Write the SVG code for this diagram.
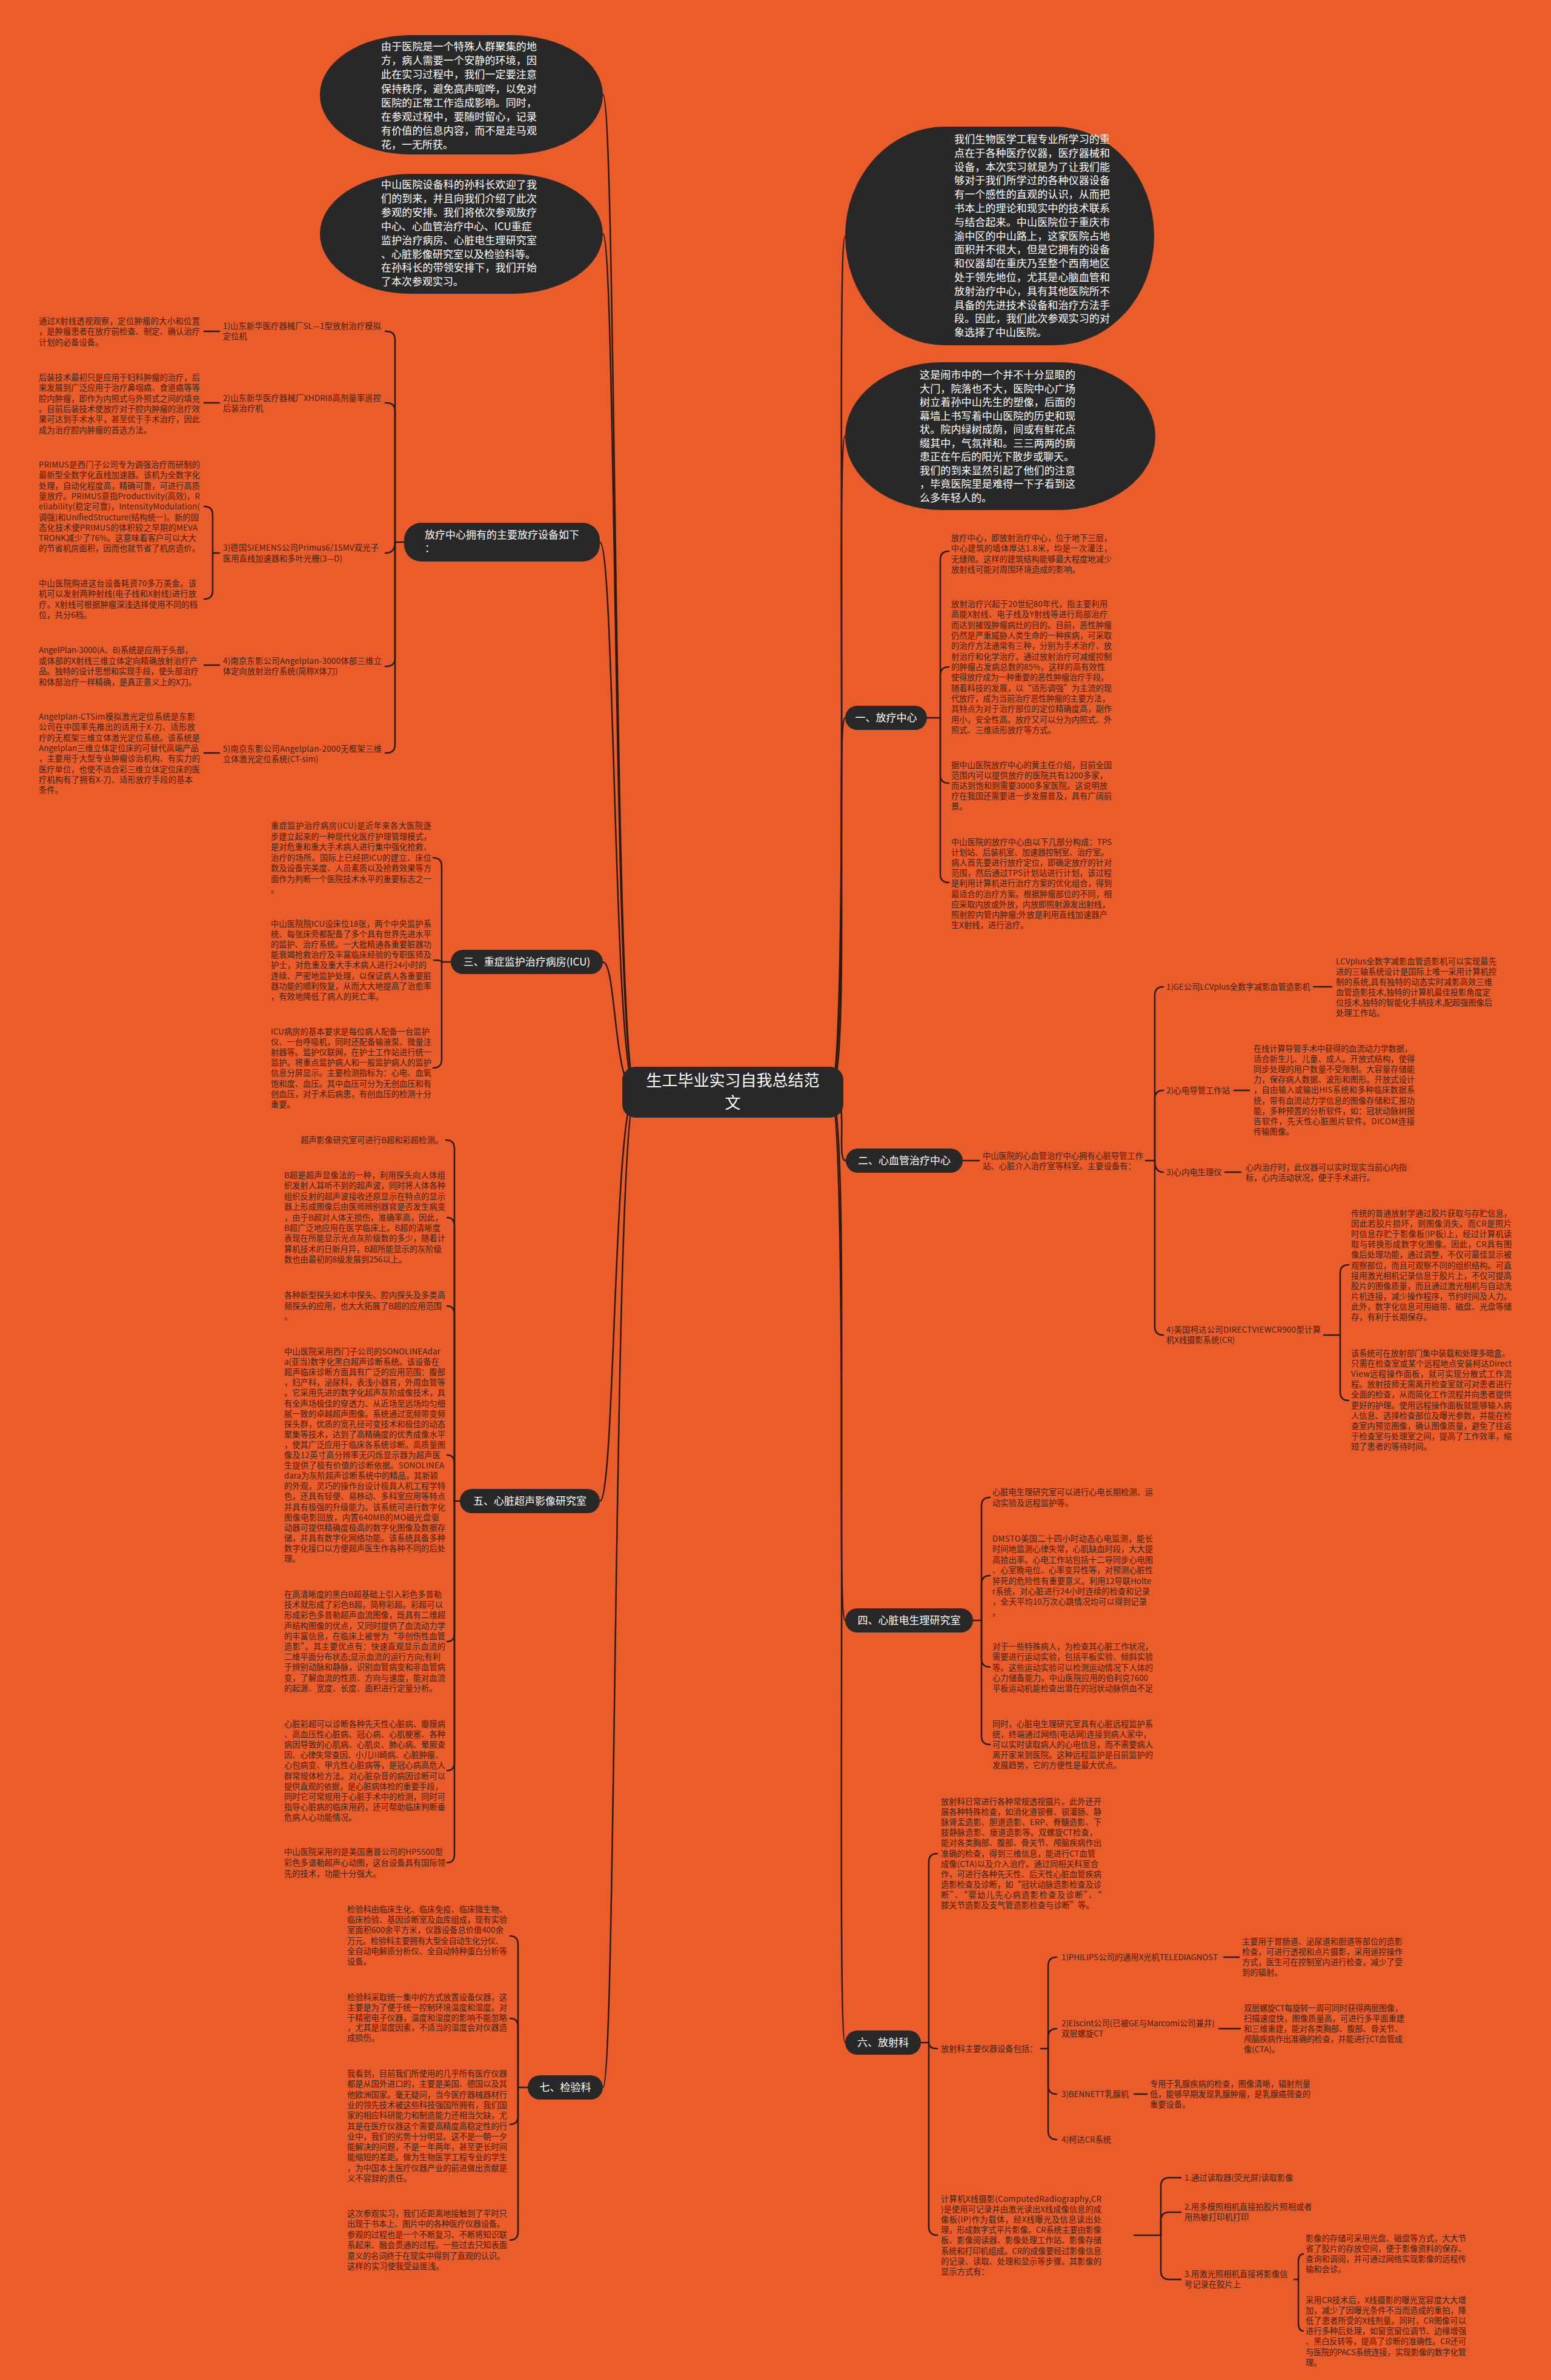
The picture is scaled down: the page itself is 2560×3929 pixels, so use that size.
<svg xmlns="http://www.w3.org/2000/svg" width="2560" height="3929" viewBox="0 0 2560 3929">
<style>
text{font-family:"Noto Sans CJK SC","Microsoft YaHei",sans-serif}
.t{font-size:13.3px;fill:#3f1f0f}
.b{font-size:17px;fill:#ffffff}
.w{font-size:17px;fill:#ffffff;text-anchor:middle}
.nd{fill:#282828}
.ln{fill:none;stroke:#2b1a10;stroke-width:2.5;stroke-linecap:round}
</style>
<rect x="0" y="0" width="2560" height="3929" fill="#EA5D2A"/>
<g id="connectors" class="ln">
<path d="M1050,1801 C1012,1801 1018,156 995,156"/>
<path d="M1050,1801 C1012,1801 1018,386 995,386"/>
<path d="M1050,1801 C1012,1801 1016,895 990,895"/>
<path d="M1050,1801 C1012,1801 1018,1588 995,1588"/>
<path d="M1050,1801 C1012,1801 1016,2478 990,2478"/>
<path d="M1050,1801 C1012,1801 1018,3446 995,3446"/>
<path d="M1370,1801 C1405,1801 1378,390 1395,390"/>
<path d="M1370,1801 C1405,1801 1378,720 1395,720"/>
<path d="M1370,1801 C1405,1801 1378,1185 1395,1185"/>
<path d="M1370,1801 C1405,1801 1378,1916 1396,1916"/>
<path d="M1370,1801 C1405,1801 1378,2675 1395,2675"/>
<path d="M1370,1801 C1405,1801 1378,3372 1395,3372"/>
<path d="M667,895 L652,895"/>
<path d="M652,895 L652,561 Q652,547 638,547 L636,547"/>
<path d="M652,895 L652,679 Q652,665 638,665 L636,665"/>
<path d="M652,895 Q652,913 636,913"/>
<path d="M652,895 L652,1086 Q652,1100 638,1100 L636,1100"/>
<path d="M652,895 L652,1229 Q652,1243 638,1243 L636,1243"/>
<path d="M362,547 L337,547"/>
<path d="M362,665 L337,665"/>
<path d="M362,913 L351,913"/>
<path d="M351,913 L351,850 Q351,836 337,836"/>
<path d="M351,913 L351,975 Q351,989 337,989"/>
<path d="M362,1098 L337,1098"/>
<path d="M362,1243 L337,1243"/>
<path d="M1530,1185 L1552,1185"/>
<path d="M1552,1185 L1552,924 Q1552,910 1566,910"/>
<path d="M1552,1185 L1552,1115 Q1552,1101 1566,1101"/>
<path d="M1552,1185 L1552,1279 Q1552,1293 1566,1293"/>
<path d="M1552,1185 L1552,1443 Q1552,1457 1566,1457"/>
<path d="M1589,1916 L1616,1916"/>
<path d="M1891,1916 L1906,1916"/>
<path d="M1906,1916 L1906,1643 Q1906,1629 1920,1629"/>
<path d="M1906,1916 L1906,1814 Q1906,1800 1920,1800"/>
<path d="M1906,1916 Q1906,1935 1920,1935"/>
<path d="M1906,1916 L1906,2190 Q1906,2204 1920,2204"/>
<path d="M2168,1629 L2198,1629"/>
<path d="M2037,1800 L2062,1800"/>
<path d="M2022,1935 L2048,1935"/>
<path d="M2185,2204 L2212,2204"/>
<path d="M2212,2204 L2212,2102 Q2212,2088 2226,2088"/>
<path d="M2212,2204 L2212,2298 Q2212,2312 2226,2312"/>
<path d="M744,1588 L729,1588"/>
<path d="M729,1588 L729,1430 Q729,1416 715,1416"/>
<path d="M729,1588 Q729,1585 716,1585"/>
<path d="M729,1588 L729,1749 Q729,1763 715,1763"/>
<path d="M1606,2675 L1620,2675"/>
<path d="M1620,2675 L1620,2486 Q1620,2472 1634,2472"/>
<path d="M1620,2675 L1620,2615 Q1620,2601 1634,2601"/>
<path d="M1620,2675 L1620,2738 Q1620,2752 1634,2752"/>
<path d="M1620,2675 L1620,2866 Q1620,2880 1634,2880"/>
<path d="M759,2478 L750,2478"/>
<path d="M750,2478 L750,1896 Q750,1882 736,1882"/>
<path d="M750,2478 L750,2024 Q750,2010 738,2010"/>
<path d="M750,2478 L750,2170 Q750,2156 738,2156"/>
<path d="M750,2478 L750,2416 Q750,2402 738,2402"/>
<path d="M750,2478 L750,2696 Q750,2710 738,2710"/>
<path d="M750,2478 L750,2909 Q750,2923 738,2923"/>
<path d="M750,2478 L750,3061 Q750,3075 738,3075"/>
<path d="M871,3446 L855,3446"/>
<path d="M855,3446 L855,3210 Q855,3196 842,3196"/>
<path d="M855,3446 L855,3346 Q855,3332 842,3332"/>
<path d="M855,3446 L855,3493 Q855,3507 842,3507"/>
<path d="M855,3446 L855,3684 Q855,3698 842,3698"/>
<path d="M1520,3372 L1533,3372"/>
<path d="M1533,3372 L1533,3074 Q1533,3060 1547,3060"/>
<path d="M1533,3372 Q1533,3382 1547,3382"/>
<path d="M1533,3372 L1533,3676 Q1533,3690 1547,3690"/>
<path d="M1718,3382 L1730,3382"/>
<path d="M1730,3382 L1730,3245 Q1730,3231 1744,3231"/>
<path d="M1730,3382 L1730,3363 Q1730,3349 1744,3349"/>
<path d="M1730,3382 L1730,3443 Q1730,3457 1744,3457"/>
<path d="M1730,3382 L1730,3518 Q1730,3532 1744,3532"/>
<path d="M2020,3231 L2045,3231"/>
<path d="M2012,3349 L2047,3349"/>
<path d="M1872,3457 L1893,3457"/>
<path d="M1872,3690 L1916,3690"/>
<path d="M1916,3690 L1916,3609 Q1916,3595 1930,3595 L1949,3595"/>
<path d="M1916,3690 L1916,3666 Q1916,3652 1930,3652 L1949,3652"/>
<path d="M1916,3690 L1916,3749 Q1916,3763 1930,3763 L1949,3763"/>
<path d="M2136,3763 L2143,3763"/>
<path d="M2143,3763 L2143,3735 Q2143,3721 2151,3721"/>
<path d="M2143,3763 L2143,3834 Q2143,3848 2151,3848"/>
</g>
<g id="center">
<rect class="nd" x="1027" y="1761" width="365" height="84" rx="22"/>
<text class="w" x="1209.5" y="1793" style="font-size:26px">生工毕业实习自我总结范</text>
<text class="w" x="1209.5" y="1830" style="font-size:26px">文</text>
</g>
<g id="bubble-l1">
<rect class="nd" x="528" y="58" width="467" height="197" rx="150" ry="98"/>
<text class="b" x="629" y="83" textLength="257">由于医院是一个特殊人群聚集的地</text>
<text class="b" x="629" y="106.2" textLength="257">方，病人需要一个安静的环境，因</text>
<text class="b" x="629" y="129.4" textLength="257">此在实习过程中，我们一定要注意</text>
<text class="b" x="629" y="152.6" textLength="257">保持秩序，避免高声喧哗，以免对</text>
<text class="b" x="629" y="175.8" textLength="257">医院的正常工作造成影响。同时，</text>
<text class="b" x="629" y="199" textLength="257">在参观过程中，要随时留心，记录</text>
<text class="b" x="629" y="222.2" textLength="257">有价值的信息内容，而不是走马观</text>
<text class="b" x="629" y="245.4">花，一无所获。</text>
</g>
<g id="bubble-l2">
<rect class="nd" x="528" y="287" width="467" height="198" rx="150" ry="99"/>
<text class="b" x="629" y="311" textLength="257">中山医院设备科的孙科长欢迎了我</text>
<text class="b" x="629" y="333.9" textLength="257">们的到来，并且向我们介绍了此次</text>
<text class="b" x="629" y="356.8" textLength="257">参观的安排。我们将依次参观放疗</text>
<text class="b" x="629" y="379.7">中心、心血管治疗中心、ICU重症</text>
<text class="b" x="629" y="402.6" textLength="257">监护治疗病房、心脏电生理研究室</text>
<text class="b" x="629" y="425.5">、心脏影像研究室以及检验科等。</text>
<text class="b" x="629" y="448.4" textLength="257">在孙科长的带领安排下，我们开始</text>
<text class="b" x="629" y="471.3">了本次参观实习。</text>
</g>
<g id="bubble-r1">
<rect class="nd" x="1395" y="209" width="510" height="361" rx="165" ry="180"/>
<text class="b" x="1575" y="236" textLength="257">我们生物医学工程专业所学习的重</text>
<text class="b" x="1575" y="258.8" textLength="257">点在于各种医疗仪器，医疗器械和</text>
<text class="b" x="1575" y="281.6" textLength="257">设备，本次实习就是为了让我们能</text>
<text class="b" x="1575" y="304.4" textLength="257">够对于我们所学过的各种仪器设备</text>
<text class="b" x="1575" y="327.2" textLength="257">有一个感性的直观的认识，从而把</text>
<text class="b" x="1575" y="350" textLength="257">书本上的理论和现实中的技术联系</text>
<text class="b" x="1575" y="372.8" textLength="257">与结合起来。中山医院位于重庆市</text>
<text class="b" x="1575" y="395.6" textLength="257">渝中区的中山路上，这家医院占地</text>
<text class="b" x="1575" y="418.4" textLength="257">面积并不很大，但是它拥有的设备</text>
<text class="b" x="1575" y="441.2" textLength="257">和仪器却在重庆乃至整个西南地区</text>
<text class="b" x="1575" y="464" textLength="257">处于领先地位，尤其是心脑血管和</text>
<text class="b" x="1575" y="486.8" textLength="257">放射治疗中心，具有其他医院所不</text>
<text class="b" x="1575" y="509.6" textLength="257">具备的先进技术设备和治疗方法手</text>
<text class="b" x="1575" y="532.4" textLength="257">段。因此，我们此次参观实习的对</text>
<text class="b" x="1575" y="555.2">象选择了中山医院。</text>
</g>
<g id="bubble-r2">
<rect class="nd" x="1395" y="598" width="512" height="244" rx="160" ry="122"/>
<text class="b" x="1518" y="625" textLength="257">这是闹市中的一个并不十分显眼的</text>
<text class="b" x="1518" y="647.5" textLength="257">大门，院落也不大，医院中心广场</text>
<text class="b" x="1518" y="670" textLength="257">树立着孙中山先生的塑像，后面的</text>
<text class="b" x="1518" y="692.5" textLength="257">幕墙上书写着中山医院的历史和现</text>
<text class="b" x="1518" y="715" textLength="257">状。院内绿树成荫，间或有鲜花点</text>
<text class="b" x="1518" y="737.5" textLength="257">缀其中，气氛祥和。三三两两的病</text>
<text class="b" x="1518" y="760">患正在午后的阳光下散步或聊天。</text>
<text class="b" x="1518" y="782.5" textLength="257">我们的到来显然引起了他们的注意</text>
<text class="b" x="1518" y="805" textLength="257">，毕竟医院里是难得一下子看到这</text>
<text class="b" x="1518" y="827.5">么多年轻人的。</text>
</g>
<g id="node-fangliao-equip">
<rect class="nd" x="667" y="863" width="323" height="64" rx="28"/>
<text class="b" x="701" y="889">放疗中心拥有的主要放疗设备如下</text>
<text class="b" x="701" y="911">：</text>
</g>
<g id="fangliao-items" class="t">
<text x="368" y="543" textLength="261">1)山东新华医疗器械厂SL—1型放射治疗模拟</text>
<text x="368" y="560">定位机</text>
<text x="368" y="662" textLength="261">2)山东新华医疗器械厂XHDRI8高剂量率遥控</text>
<text x="368" y="679">后装治疗机</text>
<text x="368" y="909" textLength="257">3)德国SIEMENS公司Primus6/15MV双光子</text>
<text x="368" y="927">医用直线加速器和多叶光栅(3—D)</text>
<text x="368" y="1096" textLength="262">4)南京东影公司Angelplan-3000体部三维立</text>
<text x="368" y="1113">体定向放射治疗系统(简称X体刀)</text>
<text x="368" y="1241" textLength="262">5)南京东影公司Angelplan-2000无框架三维</text>
<text x="368" y="1258">立体激光定位系统(CT-sim)</text>
</g>
<g id="fangliao-desc" class="t">
<text x="64" y="535" textLength="266">通过X射线透视观察，定位肿瘤的大小和位置</text>
<text x="64" y="552.4" textLength="266">，是肿瘤患者在放疗前检查、制定、确认治疗</text>
<text x="64" y="569.8">计划的必备设备。</text>
<text x="64" y="628" textLength="266">后装技术最初只是应用于妇科肿瘤的治疗，后</text>
<text x="64" y="645.3" textLength="266">来发展到广泛应用于治疗鼻咽癌、食道癌等等</text>
<text x="64" y="662.6" textLength="266">腔内肿瘤，即作为内照式与外照式之间的填充</text>
<text x="64" y="679.9" textLength="266">。目前后装技术使放疗对于腔内肿瘤的治疗效</text>
<text x="64" y="697.2" textLength="266">果可达到手术水平，甚至优于手术治疗，因此</text>
<text x="64" y="714.5">成为治疗腔内肿瘤的首选方法。</text>
<text x="64" y="772" textLength="266">PRIMUS是西门子公司专为调强治疗而研制的</text>
<text x="64" y="789.3" textLength="266">最新型全数字化直线加速器。该机为全数字化</text>
<text x="64" y="806.6" textLength="266">处理，自动化程度高，精确可靠，可进行高质</text>
<text x="64" y="823.9" textLength="266">量放疗。PRIMUS意指Productivity(高效)，R</text>
<text x="64" y="841.2" textLength="266">eliability(稳定可靠)，IntensityModulation(</text>
<text x="64" y="858.5" textLength="264">调强)和UnifiedStructure(结构统一)。新的固</text>
<text x="64" y="875.8" textLength="262">态化技术使PRIMUS的体积较之早期的MEVA</text>
<text x="64" y="893.1" textLength="260">TRONK减少了76%。这意味着客户可以大大</text>
<text x="64" y="910.4">的节省机房面积，因而也就节省了机房造价。</text>
<text x="64" y="968" textLength="260">中山医院购进这台设备耗资70多万美金。该</text>
<text x="64" y="985.4" textLength="260">机可以发射两种射线(电子线和X射线)进行放</text>
<text x="64" y="1002.8" textLength="262">疗。X射线可根据肿瘤深浅选择使用不同的档</text>
<text x="64" y="1020.2">位，共分6档。</text>
<text x="64" y="1078" textLength="254">AngelPlan-3000(A、B)系统是应用于头部，</text>
<text x="64" y="1095.6" textLength="262">或体部的X射线三维立体定向精确放射治疗产</text>
<text x="64" y="1113.2" textLength="264">品。独特的设计思想和实现手段，使头部治疗</text>
<text x="64" y="1130.8">和体部治疗一样精确，是真正意义上的X刀。</text>
<text x="64" y="1188" textLength="258">Angelplan-CTSim模拟激光定位系统是东影</text>
<text x="64" y="1205.3" textLength="258">公司在中国率先推出的适用于X-刀、适形放</text>
<text x="64" y="1222.6" textLength="266">疗的无框架三维立体激光定位系统。该系统是</text>
<text x="64" y="1239.9" textLength="264">Angelplan三维立体定位床的可替代高端产品</text>
<text x="64" y="1257.2" textLength="266">，主要用于大型专业肿瘤诊治机构、有实力的</text>
<text x="64" y="1274.5" textLength="266">医疗单位，也使不适合彩三维立体定位床的医</text>
<text x="64" y="1291.8" textLength="254">疗机构有了拥有X-刀、适形放疗手段的基本</text>
<text x="64" y="1309.1">条件。</text>
</g>
<g id="node-1">
<rect class="nd" x="1395" y="1165" width="135" height="40" rx="20"/>
<text class="w" x="1462.5" y="1191">一、放疗中心</text>
</g>
<g id="node-1-text" class="t">
<text x="1570" y="893" textLength="265">放疗中心，即放射治疗中心，位于地下三层，</text>
<text x="1570" y="910.4" textLength="265">中心建筑的墙体厚达1.8米，均是一次灌注，</text>
<text x="1570" y="927.8" textLength="265">无缝隙。这样的建筑结构能够最大程度地减少</text>
<text x="1570" y="945.2">放射线可能对周围环境造成的影响。</text>
<text x="1570" y="1002" textLength="258">放射治疗兴起于20世纪80年代，指主要利用</text>
<text x="1570" y="1019.3" textLength="258">高能X射线、电子线及Y射线等进行局部治疗</text>
<text x="1570" y="1036.7" textLength="265">而达到摧毁肿瘤病灶的目的。目前，恶性肿瘤</text>
<text x="1570" y="1054" textLength="265">仍然是严重威胁人类生命的一种疾病，可采取</text>
<text x="1570" y="1071.3" textLength="265">的治疗方法通常有三种，分别为手术治疗、放</text>
<text x="1570" y="1088.7" textLength="265">射治疗和化学治疗。通过放射治疗可减缓控制</text>
<text x="1570" y="1106" textLength="254">的肿瘤占发病总数的85%，这样的高有效性</text>
<text x="1570" y="1123.3" textLength="260">使得放疗成为一种重要的恶性肿瘤治疗手段。</text>
<text x="1570" y="1140.6" textLength="265">随着科技的发展，以“适形调强”为主流的现</text>
<text x="1570" y="1158" textLength="262">代放疗，成为当前治疗恶性肿瘤的主要方法，</text>
<text x="1570" y="1175.3" textLength="265">其特点为对于治疗部位的定位精确度高，副作</text>
<text x="1570" y="1192.6" textLength="265">用小，安全性高。放疗又可以分为内照式、外</text>
<text x="1570" y="1210">照式、三维适形放疗等方式。</text>
<text x="1570" y="1268" textLength="265">据中山医院放疗中心的黄主任介绍，目前全国</text>
<text x="1570" y="1285" textLength="258">范围内可以提供放疗的医院共有1200多家，</text>
<text x="1570" y="1302" textLength="258">而达到饱和则需要3000多家医院。这说明放</text>
<text x="1570" y="1319" textLength="265">疗在我国还需要进一步发展普及，具有广阔前</text>
<text x="1570" y="1336">景。</text>
<text x="1570" y="1395" textLength="265">中山医院的放疗中心由以下几部分构成：TPS</text>
<text x="1570" y="1412.1" textLength="260">计划站、后装机室、加速器控制室、治疗室。</text>
<text x="1570" y="1429.2" textLength="265">病人首先要进行放疗定位，即确定放疗的针对</text>
<text x="1570" y="1446.3" textLength="265">范围，然后通过TPS计划站进行计划，该过程</text>
<text x="1570" y="1463.4" textLength="265">是利用计算机进行治疗方案的优化组合，得到</text>
<text x="1570" y="1480.5" textLength="265">最适合的治疗方案。根据肿瘤部位的不同，相</text>
<text x="1570" y="1497.6" textLength="262">应采取内放或外放，内放即照射源发出射线，</text>
<text x="1570" y="1514.7" textLength="258">照射腔内管内肿瘤;外放是利用直线加速器产</text>
<text x="1570" y="1531.8">生X射线，进行治疗。</text>
</g>
<g id="node-2">
<rect class="nd" x="1396" y="1896" width="193" height="40" rx="20"/>
<text class="w" x="1492.5" y="1922">二、心血管治疗中心</text>
</g>
<g id="node-2-text" class="t">
<text x="1622" y="1913" textLength="265">中山医院的心血管治疗中心拥有心脏导管工作</text>
<text x="1622" y="1930">站、心脏介入治疗室等科室。主要设备有：</text>
<text x="1925" y="1634">1)GE公司LCVplus全数字减影血管造影机</text>
<text x="1925" y="1805">2)心电导管工作站</text>
<text x="1925" y="1940">3)心内电生理仪</text>
<text x="1925" y="2200" textLength="255">4)美国柯达公司DIRECTVIEWCR900型计算</text>
<text x="1925" y="2217">机X线摄影系统(CR)</text>
<text x="2205" y="1592" textLength="265">LCVplus全数字减影血管造影机可以实现最先</text>
<text x="2205" y="1609" textLength="265">进的三轴系统设计是国际上唯一采用计算机控</text>
<text x="2205" y="1626" textLength="258">制的系统,具有独特的动态实时减影高效三维</text>
<text x="2205" y="1643" textLength="255">血管造影技术,独特的计算机最佳投影角度定</text>
<text x="2205" y="1660" textLength="258">位技术,独特的智能化手柄技术,配超强图像后</text>
<text x="2205" y="1677">处理工作站。</text>
<text x="2069" y="1736" textLength="262">在线计算导管手术中获得的血流动力学数据，</text>
<text x="2069" y="1753.1" textLength="266">适合新生儿、儿童、成人。开放式结构，使得</text>
<text x="2069" y="1770.2" textLength="266">同步处理的用户数量不受限制。大容量存储能</text>
<text x="2069" y="1787.3" textLength="266">力，保存病人数据、波形和图形。开放式设计</text>
<text x="2069" y="1804.4" textLength="266">，自由输入或输出HIS系统和多种临床数据系</text>
<text x="2069" y="1821.5" textLength="266">统，带有血流动力学信息的图像存储和汇报功</text>
<text x="2069" y="1838.6" textLength="266">能，多种预置的分析软件，如：冠状动脉树报</text>
<text x="2069" y="1855.7" textLength="266">告软件，先天性心脏图片软件。DICOM连接</text>
<text x="2069" y="1872.8">传输图像。</text>
<text x="2056" y="1932" textLength="266">心内治疗时，此仪器可以实时现实当前心内指</text>
<text x="2056" y="1949">标，心内活动状况，便于手术进行。</text>
<text x="2230" y="2008" textLength="265">传统的普通放射学通过胶片获取与存贮信息，</text>
<text x="2230" y="2025.1" textLength="265">因此若胶片损坏，则图像消失。而CR是照片</text>
<text x="2230" y="2042.2" textLength="265">时信息存贮于影像板(IP板)上，经过计算机读</text>
<text x="2230" y="2059.3" textLength="265">取与转换形成数字化图像。因此，CR具有图</text>
<text x="2230" y="2076.4" textLength="265">像后处理功能，通过调整，不仅可最佳显示被</text>
<text x="2230" y="2093.5" textLength="265">观察部位，而且可观察不同的组织结构。可直</text>
<text x="2230" y="2110.6" textLength="265">接用激光相机记录信息于胶片上，不仅可提高</text>
<text x="2230" y="2127.7" textLength="265">胶片的图像质量，而且通过激光相机与自动洗</text>
<text x="2230" y="2144.8" textLength="265">片机连接，减少操作程序，节约时间及人力。</text>
<text x="2230" y="2161.9" textLength="265">此外，数字化信息可用磁带、磁盘、光盘等储</text>
<text x="2230" y="2179">存，有利于长期保存。</text>
<text x="2230" y="2239" textLength="262">该系统可在放射部门集中装载和处理多暗盒。</text>
<text x="2230" y="2256.1" textLength="265">只需在检查室或某个远程地点安装柯达Direct</text>
<text x="2230" y="2273.2" textLength="265">View远程操作面板，就可实现分散式工作流</text>
<text x="2230" y="2290.3" textLength="265">程。放射技师无需离开检查室就可对患者进行</text>
<text x="2230" y="2307.4" textLength="265">全面的检查，从而简化工作流程并向患者提供</text>
<text x="2230" y="2324.5" textLength="265">更好的护理。使用远程操作面板就能够输入病</text>
<text x="2230" y="2341.6" textLength="265">人信息、选择检查部位及曝光参数，并能在检</text>
<text x="2230" y="2358.7" textLength="265">查室内预览图像，确认图像质量，避免了往返</text>
<text x="2230" y="2375.8" textLength="265">于检查室与处理室之间，提高了工作效率，缩</text>
<text x="2230" y="2392.9">短了患者的等待时间。</text>
</g>
<g id="node-3">
<rect class="nd" x="744" y="1568" width="251" height="40" rx="20"/>
<text class="w" x="869.5" y="1594">三、重症监护治疗病房(ICU)</text>
</g>
<g id="node-3-text" class="t">
<text x="447" y="1368" textLength="265">重症监护治疗病房(ICU)是近年来各大医院逐</text>
<text x="447" y="1385.5" textLength="265">步建立起来的一种现代化医疗护理管理模式，</text>
<text x="447" y="1403" textLength="265">是对危重和重大手术病人进行集中强化抢救、</text>
<text x="447" y="1420.5" textLength="265">治疗的场所。国际上已经把ICU的建立、床位</text>
<text x="447" y="1438" textLength="265">数及设备完美度、人员素质以及抢救效果等方</text>
<text x="447" y="1455.5" textLength="265">面作为判断一个医院技术水平的重要标志之一</text>
<text x="447" y="1473">。</text>
<text x="447" y="1530" textLength="265">中山医院院ICU设床位18张，两个中央监护系</text>
<text x="447" y="1547.1" textLength="265">统、每张床旁都配备了多个具有世界先进水平</text>
<text x="447" y="1564.2" textLength="265">的监护、治疗系统。一大批精通各重要脏器功</text>
<text x="447" y="1581.3" textLength="265">能衰竭抢救治疗及丰富临床经验的专职医师及</text>
<text x="447" y="1598.4" textLength="257">护士，对危重及重大手术病人进行24小时的</text>
<text x="447" y="1615.5" textLength="265">连续、严密地监护处理，以保证病人各重要脏</text>
<text x="447" y="1632.6" textLength="265">器功能的顺利恢复，从而大大地提高了治愈率</text>
<text x="447" y="1649.7">，有效地降低了病人的死亡率。</text>
<text x="447" y="1708" textLength="262">ICU病房的基本要求是每位病人配备一台监护</text>
<text x="447" y="1725.1" textLength="265">仪、一台呼吸机，同时还配备输液泵、微量注</text>
<text x="447" y="1742.2" textLength="265">射器等。监护仪联网，在护士工作站进行统一</text>
<text x="447" y="1759.3" textLength="265">监护。将重点监护病人和一般监护病人的监护</text>
<text x="447" y="1776.4" textLength="265">信息分屏显示。主要检测指标为：心电、血氧</text>
<text x="447" y="1793.5" textLength="265">饱和度、血压。其中血压可分为无创血压和有</text>
<text x="447" y="1810.6" textLength="265">创血压，对于术后病患，有创血压的检测十分</text>
<text x="447" y="1827.7">重要。</text>
</g>
<g id="node-4">
<rect class="nd" x="1395" y="2655" width="211" height="40" rx="20"/>
<text class="w" x="1500.5" y="2681">四、心脏电生理研究室</text>
</g>
<g id="node-4-text" class="t">
<text x="1638" y="2468" textLength="265">心脏电生理研究室可以进行心电长期检测、运</text>
<text x="1638" y="2486">动实验及远程监护等。</text>
<text x="1638" y="2545" textLength="265">DMSTO美国二十四小时动态心电监测，能长</text>
<text x="1638" y="2562.4" textLength="265">时间地监测心律失常，心肌缺血时段，大大提</text>
<text x="1638" y="2579.8" textLength="265">高拾出率。心电工作站包括十二导同步心电图</text>
<text x="1638" y="2597.2" textLength="265">、心室晚电位、心率变异性等，对预测心脏性</text>
<text x="1638" y="2614.6" textLength="262">猝死的危险性有重要意义。利用12导联Holte</text>
<text x="1638" y="2632" textLength="260">r系统，对心脏进行24小时连续的检查和记录</text>
<text x="1638" y="2649.4" textLength="255">，全天平均10万次心跳情况均可以得到记录</text>
<text x="1638" y="2666.8">。</text>
<text x="1638" y="2723" textLength="265">对于一些特殊病人，为检查其心脏工作状况，</text>
<text x="1638" y="2740.3" textLength="265">需要进行运动实验，包括平板实验、倾斜实验</text>
<text x="1638" y="2757.5" textLength="265">等。这些运动实验可以检测运动情况下人体的</text>
<text x="1638" y="2774.8" textLength="257">心力储备能力。中山医院应用的伯利克7600</text>
<text x="1638" y="2792" textLength="265">平板运动机能检查出潜在的冠状动脉供血不足</text>
<text x="1638" y="2851" textLength="265">同时，心脏电生理研究室具有心脏远程监护系</text>
<text x="1638" y="2868" textLength="262">统，终端通过网络(电话网)连接到病人家中，</text>
<text x="1638" y="2885" textLength="265">可以实时读取病人的心电信息，而不需要病人</text>
<text x="1638" y="2902" textLength="265">离开家来到医院。这种远程监护是目前监护的</text>
<text x="1638" y="2919">发展趋势，它的方便性是最大优点。</text>
</g>
<g id="node-5">
<rect class="nd" x="759" y="2458" width="231" height="40" rx="20"/>
<text class="w" x="874.5" y="2484">五、心脏超声影像研究室</text>
</g>
<g id="node-5-text" class="t">
<text x="731" y="1887" text-anchor="end">超声影像研究室可进行B超和彩超检测。</text>
<text x="469" y="1945" textLength="266">B超是超声显像法的一种，利用探头向人体组</text>
<text x="469" y="1962.4" textLength="266">织发射人耳听不到的超声波，同时将人体各种</text>
<text x="469" y="1979.8" textLength="266">组织反射的超声波接收还原显示在特点的显示</text>
<text x="469" y="1997.2" textLength="266">器上形成图像后由医师辨别器官是否发生病变</text>
<text x="469" y="2014.6" textLength="262">，由于B超对人体无损伤，准确率高，因此，</text>
<text x="469" y="2032" textLength="258">B超广泛地应用在医学临床上。B超的清晰度</text>
<text x="469" y="2049.4" textLength="266">表现在所能显示光点灰阶级数的多少，随着计</text>
<text x="469" y="2066.8" textLength="260">算机技术的日新月异，B超所能显示的灰阶级</text>
<text x="469" y="2084.2">数也由最初的8级发展到256以上。</text>
<text x="469" y="2143" textLength="266">各种新型探头如术中探头、腔内探头及多类高</text>
<text x="469" y="2160.5" textLength="260">频探头的应用，也大大拓展了B超的应用范围</text>
<text x="469" y="2178">。</text>
<text x="469" y="2236" textLength="258">中山医院采用西门子公司的SONOLINEAdar</text>
<text x="469" y="2253.1" textLength="256">a(亚当)数字化黑白超声诊断系统。该设备在</text>
<text x="469" y="2270.2" textLength="266">超声临床诊断方面具有广泛的应用范围：腹部</text>
<text x="469" y="2287.3" textLength="266">，妇产科，泌尿科，表浅小器官，外周血管等</text>
<text x="469" y="2304.4" textLength="266">。它采用先进的数字化超声灰阶成像技术，具</text>
<text x="469" y="2321.5" textLength="266">有全声场极佳的穿透力、从近场至远场均匀细</text>
<text x="469" y="2338.6" textLength="266">腻一致的卓越超声图像。系统通过宽频带变频</text>
<text x="469" y="2355.7" textLength="266">探头群，优质的宽孔径可变技术和极佳的动态</text>
<text x="469" y="2372.8" textLength="266">聚集等技术，达到了高精确度的优秀成像水平</text>
<text x="469" y="2389.9" textLength="266">，使其广泛应用于临床各系统诊断。高质量图</text>
<text x="469" y="2407" textLength="258">像及12英寸高分辨率无闪烁显示器为超声医</text>
<text x="469" y="2424.1" textLength="264">生提供了极有价值的诊断依据。SONOLINEA</text>
<text x="469" y="2441.2" textLength="254">dara为灰阶超声诊断系统中的精品，其新颖</text>
<text x="469" y="2458.3" textLength="266">的外观，灵巧的操作台设计极具人机工程学特</text>
<text x="469" y="2475.4" textLength="266">色，还具有轻便、易移动、多科室应用等特点</text>
<text x="469" y="2492.5" textLength="266">并具有极强的升级能力。该系统可进行数字化</text>
<text x="469" y="2509.6" textLength="256">图像电影回放，内置640MB的MO磁光盘驱</text>
<text x="469" y="2526.7" textLength="266">动器可提供精确度极高的数字化图像及数据存</text>
<text x="469" y="2543.8" textLength="266">储，并具有数字化网络功能。该系统具备多种</text>
<text x="469" y="2560.9" textLength="266">数字化接口以方便超声医生作各种不同的后处</text>
<text x="469" y="2578">理。</text>
<text x="469" y="2637" textLength="260">在高清晰度的黑白B超基础上引入彩色多普勒</text>
<text x="469" y="2654.2" textLength="262">技术就形成了彩色B超，简称彩超。彩超可以</text>
<text x="469" y="2671.4" textLength="266">形成彩色多普勒超声血流图像，既具有二维超</text>
<text x="469" y="2688.6" textLength="266">声结构图像的优点，又同时提供了血流动力学</text>
<text x="469" y="2705.8" textLength="266">的丰富信息，在临床上被誉为“非创伤性血管</text>
<text x="469" y="2723" textLength="266">造影”。其主要优点有：快速直观显示血流的</text>
<text x="469" y="2740.2" textLength="258">二维平面分布状态;显示血流的运行方向;有利</text>
<text x="469" y="2757.4" textLength="266">于辨别动脉和静脉，识别血管病变和非血管病</text>
<text x="469" y="2774.6" textLength="266">变，了解血流的性质、方向与速度，能对血流</text>
<text x="469" y="2791.8">的起源、宽度、长度、面积进行定量分析。</text>
<text x="469" y="2851" textLength="266">心脏彩超可以诊断各种先天性心脏病、瓣膜病</text>
<text x="469" y="2868.1" textLength="266">、高血压性心脏病、冠心病、心肌梗塞、各种</text>
<text x="469" y="2885.2" textLength="266">病因导致的心肌病、心肌炎、肺心病、晕厥查</text>
<text x="469" y="2902.3" textLength="262">因、心律失常查因、小儿川崎病、心脏肿瘤、</text>
<text x="469" y="2919.4" textLength="266">心包病变、甲亢性心脏病等，是冠心病高危人</text>
<text x="469" y="2936.5" textLength="266">群常规体检方法。对心脏杂音的病因诊断可以</text>
<text x="469" y="2953.6" textLength="262">提供直观的依据，是心脏病体检的重要手段，</text>
<text x="469" y="2970.7" textLength="266">同时它可常规用于心脏手术中的检测，同时可</text>
<text x="469" y="2987.8" textLength="266">指导心脏病的临床用药，还可帮助临床判断垂</text>
<text x="469" y="3004.9">危病人心功能情况。</text>
<text x="469" y="3062" textLength="262">中山医院采用的是美国惠普公司的HP5500型</text>
<text x="469" y="3080" textLength="266">彩色多谱勒超声心动图，这台设备具有国际领</text>
<text x="469" y="3098">先的技术，功能十分强大。</text>
</g>
<g id="node-6">
<rect class="nd" x="1395" y="3352" width="125" height="40" rx="20"/>
<text class="w" x="1457.5" y="3378">六、放射科</text>
</g>
<g id="node-6-text" class="t">
<text x="1553" y="2979" textLength="265">放射科日常进行各种常规透视摄片。此外还开</text>
<text x="1553" y="2996.1" textLength="265">展各种特殊检查，如消化道钡餐、钡灌肠、静</text>
<text x="1553" y="3013.2" textLength="265">脉肾盂造影、胆道造影、ERP、脊髓造影、下</text>
<text x="1553" y="3030.3" textLength="258">肢静脉造影、瘘道造影等。双螺旋CT检查，</text>
<text x="1553" y="3047.4" textLength="265">能对各类胸部、腹部、骨关节、颅脑疾病作出</text>
<text x="1553" y="3064.5" textLength="255">准确的检查，得到三维信息，能进行CT血管</text>
<text x="1553" y="3081.6" textLength="260">成像(CTA)以及介入治疗。通过同相关科室合</text>
<text x="1553" y="3098.7" textLength="265">作，可进行各种先天性、后天性心脏血管疾病</text>
<text x="1553" y="3115.8" textLength="265">造影检查及诊断，如“冠状动脉造影检查及诊</text>
<text x="1553" y="3132.9" textLength="265">断”、“婴幼儿先心病造影检查及诊断”、“</text>
<text x="1553" y="3150">膝关节造影及支气管造影检查与诊断”等。</text>
<text x="1553" y="3387">放射科主要仪器设备包括：</text>
<text x="1752" y="3236">1)PHILIPS公司的通用X光机TELEDIAGNOST</text>
<text x="1752" y="3345">2)Elscint公司(已被GE与Marcomi公司兼并)</text>
<text x="1752" y="3362">双层螺旋CT</text>
<text x="1752" y="3462">3)BENNETT乳腺机</text>
<text x="1752" y="3537">4)柯达CR系统</text>
<text x="2050" y="3210" textLength="265">主要用于胃肠道、泌尿道和胆道等部位的造影</text>
<text x="2050" y="3227.1" textLength="265">检查，可进行透视和点片摄影，采用遥控操作</text>
<text x="2050" y="3244.2" textLength="265">方式，医生可在控制室内进行检查，减少了受</text>
<text x="2050" y="3261.3">到的辐射。</text>
<text x="2053" y="3320" textLength="262">双层螺旋CT每旋转一周可同时获得两层图像，</text>
<text x="2053" y="3337.1" textLength="265">扫描速度快，图像质量高，可进行多平面重建</text>
<text x="2053" y="3354.2" textLength="262">和三维重建，能对各类胸部、腹部、骨关节、</text>
<text x="2053" y="3371.3" textLength="262">颅脑疾病作出准确的检查，并能进行CT血管成</text>
<text x="2053" y="3388.4">像(CTA)。</text>
<text x="1898" y="3445" textLength="265">专用于乳腺疾病的检查，图像清晰，辐射剂量</text>
<text x="1898" y="3462.1" textLength="265">低，能够早期发现乳腺肿瘤，是乳腺癌筛查的</text>
<text x="1898" y="3479.2">重要设备。</text>
<text x="1553" y="3635" textLength="265">计算机X线摄影(ComputedRadiography,CR</text>
<text x="1553" y="3652.1" textLength="265">)是使用可记录并由激光读出X线成像信息的成</text>
<text x="1553" y="3669.2" textLength="265">像板(IP)作为载体，经X线曝光及信息读出处</text>
<text x="1553" y="3686.3" textLength="265">理，形成数字式平片影像。CR系统主要由影像</text>
<text x="1553" y="3703.4" textLength="265">板、影像阅读器、影像处理工作站、影像存储</text>
<text x="1553" y="3720.5" textLength="265">系统和打印机组成。CR的成像要经过影像信息</text>
<text x="1553" y="3737.6" textLength="265">的记录、读取、处理和显示等步骤。其影像的</text>
<text x="1553" y="3754.7">显示方式有：</text>
<text x="1955" y="3600">1.通过读取器(荧光屏)读取影像</text>
<text x="1955" y="3648">2.用多模照相机直接拍胶片照相或者</text>
<text x="1955" y="3665">用热敏打印机打印</text>
<text x="1955" y="3759">3.用激光照相机直接将影像信</text>
<text x="1955" y="3776">号记录在胶片上</text>
<text x="2155" y="3700" textLength="265">影像的存储可采用光盘、磁盘等方式，大大节</text>
<text x="2155" y="3717.1" textLength="265">省了胶片的存放空间，便于影像资料的保存、</text>
<text x="2155" y="3734.2" textLength="265">查询和调阅，并可通过网络实现影像的远程传</text>
<text x="2155" y="3751.3">输和会诊。</text>
<text x="2155" y="3802" textLength="265">采用CR技术后，X线摄影的曝光宽容度大大增</text>
<text x="2155" y="3819.1" textLength="265">加，减少了因曝光条件不当而造成的重拍，降</text>
<text x="2155" y="3836.2" textLength="265">低了患者所受的X线剂量。同时，CR图像可以</text>
<text x="2155" y="3853.3" textLength="265">进行多种后处理，如窗宽窗位调节、边缘增强</text>
<text x="2155" y="3870.4" textLength="265">、黑白反转等，提高了诊断的准确性。CR还可</text>
<text x="2155" y="3887.5" textLength="265">与医院的PACS系统连接，实现影像的数字化管</text>
<text x="2155" y="3904.6">理。</text>
</g>
<g id="node-7">
<rect class="nd" x="871" y="3426" width="124" height="40" rx="20"/>
<text class="w" x="933" y="3452">七、检验科</text>
</g>
<g id="node-7-text" class="t">
<text x="573" y="3157" textLength="264">检验科由临床生化、临床免疫、临床微生物、</text>
<text x="573" y="3174.2" textLength="264">临床检验、基因诊断室及血库组成，现有实验</text>
<text x="573" y="3191.4" textLength="258">室面积600余平方米，仪器设备总价值400余</text>
<text x="573" y="3208.6" textLength="258">万元。检验科主要拥有大型全自动生化分仪、</text>
<text x="573" y="3225.8" textLength="264">全自动电解质分析仪、全自动特种蛋白分析等</text>
<text x="573" y="3243">设备。</text>
<text x="573" y="3302" textLength="264">检验科采取统一集中的方式放置设备仪器，这</text>
<text x="573" y="3318.8" textLength="264">主要是为了便于统一控制环境温度和湿度。对</text>
<text x="573" y="3335.6" textLength="264">于精密电子仪器，温度和湿度的影响不能忽略</text>
<text x="573" y="3352.4" textLength="264">，尤其是湿度因素，不适当的湿度会对仪器造</text>
<text x="573" y="3369.2">成损伤。</text>
<text x="573" y="3428" textLength="264">我看到，目前我们所使用的几乎所有医疗仪器</text>
<text x="573" y="3445.3" textLength="264">都是从国外进口的，主要是美国、德国以及其</text>
<text x="573" y="3462.6" textLength="264">他欧洲国家。毫无疑问，当今医疗器械器材行</text>
<text x="573" y="3479.9" textLength="264">业的领先技术被这些科技强国所拥有，我们国</text>
<text x="573" y="3497.2" textLength="264">家的相应科研能力和制造能力还相当欠缺，尤</text>
<text x="573" y="3514.5" textLength="264">其是在医疗仪器这个需要高精度高稳定性的行</text>
<text x="573" y="3531.8" textLength="264">业中，我们的劣势十分明显。这不是一朝一夕</text>
<text x="573" y="3549.1" textLength="264">能解决的问题，不是一年两年，甚至更长时间</text>
<text x="573" y="3566.4" textLength="264">能缩短的差距。做为生物医学工程专业的学生</text>
<text x="573" y="3583.7" textLength="264">，为中国本土医疗仪器产业的前进做出贡献是</text>
<text x="573" y="3601">义不容辞的责任。</text>
<text x="573" y="3659" textLength="264">这次参观实习，我们近距离地接触到了平时只</text>
<text x="573" y="3676.4" textLength="260">出现于书本上、图片中的各种医疗仪器设备。</text>
<text x="573" y="3693.8" textLength="264">参观的过程也是一个不断复习、不断将知识联</text>
<text x="573" y="3711.2" textLength="264">系起来、融会贯通的过程。一些过去只知表面</text>
<text x="573" y="3728.6" textLength="260">意义的名词终于在现实中得到了直观的认识。</text>
<text x="573" y="3746">这样的实习使我受益匪浅。</text>
</g>
</svg>
